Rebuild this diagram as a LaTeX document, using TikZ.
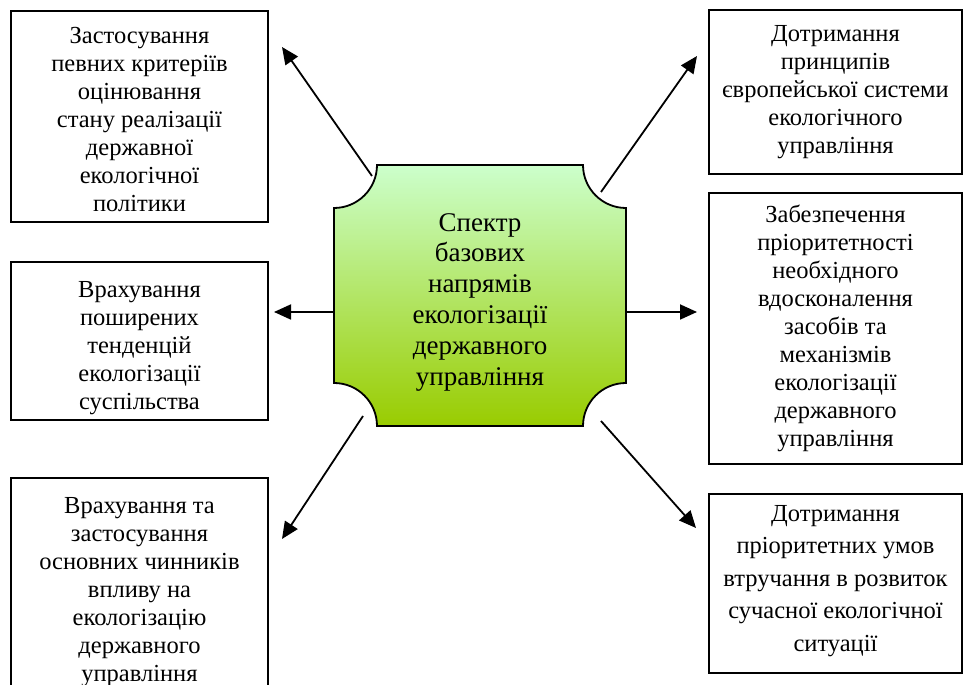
\documentclass[tikz,border=0pt]{standalone}
\usepackage{fontspec}
\setmainfont{Liberation Serif}
\usetikzlibrary{arrows.meta}

\begin{document}
\begin{tikzpicture}[x=1pt,y=1pt,
  box/.style={draw=drawColor,line width=1.8pt,fill=fillColor,inner sep=0pt},
  txt/.style={align=center,inner sep=0pt,font=\fontsize{24.5}{28}\selectfont},
  arr/.style={draw=drawColor,line width=1.8pt,-{Triangle[length=17pt,width=15pt]}}]
\definecolor{fillColor}{RGB}{255,255,255}
\definecolor{drawColor}{RGB}{0,0,0}
\definecolor{topColor}{RGB}{204,255,204}
\definecolor{bottomColor}{RGB}{153,204,0}
\path[use as bounding box,fill=fillColor] (0,0) rectangle (964,685);
\clip (0,0) rectangle (964,685);

\path[draw=drawColor,line width=1.8pt,top color=topColor,bottom color=bottomColor] (334,477)
  arc[start angle=-90,end angle=0,radius=43] -- (583,520)
  arc[start angle=180,end angle=270,radius=43] -- (626,302)
  arc[start angle=90,end angle=180,radius=43] -- (377,259)
  arc[start angle=0,end angle=90,radius=43] -- cycle;
\node[align=center,inner sep=0pt,font=\fontsize{27}{30.8}\selectfont] (spectrum) at (480,383) {Спектр\\базових\\напрямів\\екологізації\\державного\\управління};

\node[box,minimum width=257,minimum height=211] (criteria) at (139.5,568.5) {};
\node[txt] (criteria-text) at ([yshift=-3.5]criteria.center) {Застосування\\певних критеріїв\\оцінювання\\стану реалізації\\державної\\екологічної\\політики};
\node[box,minimum width=257,minimum height=158] (trends) at (139.5,344) {};
\node[txt] (trends-text) at ([yshift=-7]trends.center) {Врахування\\поширених\\тенденцій\\екологізації\\суспільства};
\node[box,minimum width=257,minimum height=229] (factors) at (139.5,92.5) {};
\node[txt] (factors-text) at (factors.center) {Врахування та\\застосування\\основних чинників\\впливу на\\екологізацію\\державного\\управління};
\node[box,minimum width=253,minimum height=164] (principles) at (835.5,593) {};
\node[txt] (principles-text) at (principles.center) {Дотримання\\принципів\\європейської системи\\екологічного\\управління};
\node[box,minimum width=253,minimum height=271] (priority) at (835.5,356.5) {};
\node[txt] (priority-text) at (priority.center) {Забезпечення\\пріоритетності\\необхідного\\вдосконалення\\засобів та\\механізмів\\екологізації\\державного\\управління};
\node[box,minimum width=253,minimum height=179] (conditions) at (835.5,101.5) {};
\node[txt,font=\fontsize{24.5}{32.5}\selectfont] (conditions-text) at ([yshift=2.5]conditions.center) {Дотримання\\пріоритетних умов\\втручання в розвиток\\сучасної екологічної\\ситуації};

\coordinate (s-criteria) at (372,509);
\coordinate (e-criteria) at (282,638);
\coordinate (s-trends) at (334,373);
\coordinate (e-trends) at (274,373);
\coordinate (s-factors) at (363,269);
\coordinate (e-factors) at (282,146);
\coordinate (s-principles) at (601,493);
\coordinate (e-principles) at (697,629);
\coordinate (s-priority) at (626,373);
\coordinate (e-priority) at (697,373);
\coordinate (s-conditions) at (601,264);
\coordinate (e-conditions) at (696,157);

\draw[arr] (s-criteria) -- (e-criteria);
\draw[arr] (s-trends) -- (e-trends);
\draw[arr] (s-factors) -- (e-factors);
\draw[arr] (s-principles) -- (e-principles);
\draw[arr] (s-priority) -- (e-priority);
\draw[arr] (s-conditions) -- (e-conditions);
\end{tikzpicture}
\end{document}
